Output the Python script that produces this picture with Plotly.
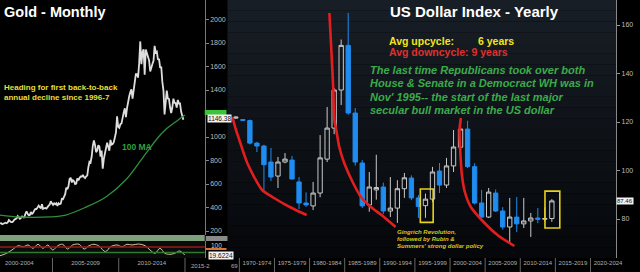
import plotly.graph_objects as go

# ---------------- DATA ----------------
# Gold monthly closes, Jan 2001 .. Nov 2014 (USD/oz)
gold_start_year = 2001
gold_close = [
    265.6, 266.7, 257.7, 263.2, 267.5, 270.6, 265.9, 273.0, 293.1, 278.8, 275.5, 276.5,
    282.3, 296.9, 301.4, 308.2, 326.6, 318.5, 304.7, 312.8, 323.7, 316.9, 317.1, 347.2,
    367.5, 347.5, 334.9, 336.8, 361.4, 346.0, 354.8, 375.6, 388.0, 386.3, 398.4, 416.3,
    402.2, 395.9, 427.5, 388.5, 393.3, 395.8, 391.4, 407.3, 415.7, 425.6, 453.4, 435.6,
    422.2, 435.5, 427.5, 435.7, 414.5, 437.1, 429.0, 433.3, 473.3, 470.8, 495.7, 513.0,
    568.8, 556.0, 582.0, 644.0, 653.0, 613.5, 632.5, 623.5, 599.3, 603.8, 646.7, 632.0,
    650.5, 664.2, 661.8, 677.0, 659.1, 650.5, 665.5, 672.0, 743.0, 789.5, 783.5, 833.8,
    923.3, 971.5, 933.5, 871.0, 885.8, 930.3, 918.0, 833.0, 884.5, 730.8, 814.5, 869.8,
    919.5, 952.0, 916.5, 883.3, 975.5, 934.5, 939.0, 955.5, 995.8, 1040.0, 1175.8, 1087.5,
    1078.5, 1109.5, 1115.5, 1179.3, 1207.5, 1244.0, 1169.0, 1246.0, 1307.0, 1346.8, 1383.5, 1405.5,
    1327.0, 1411.0, 1439.0, 1535.5, 1536.5, 1505.5, 1628.5, 1813.5, 1620.0, 1722.0, 1746.0, 1531.0,
    1744.0, 1711.0, 1662.5, 1651.3, 1558.0, 1598.5, 1622.0, 1648.5, 1776.0, 1719.0, 1726.0, 1657.5,
    1664.8, 1588.5, 1598.3, 1469.0, 1394.5, 1192.0, 1314.5, 1394.8, 1326.5, 1324.0, 1253.0, 1204.5,
    1251.0, 1326.5, 1291.8, 1288.5, 1250.5, 1315.0, 1285.3, 1285.8, 1216.5, 1164.3, 1146.4,
]
# 100-month moving average
ma_years = [2001.04, 2002.53, 2004.78, 2006.0, 2007.54, 2009.03, 2010.52, 2011.72, 2013.0, 2013.5, 2014.48, 2014.99]
ma_values = [336, 319, 320, 336, 404, 490, 634, 810, 1000, 1060, 1145, 1187]

# oscillator under gold chart
osc_years = [2001.04, 2001.54, 2002.04, 2002.41, 2002.79, 2003.16, 2003.53, 2003.91, 2004.28, 2004.65,
             2005.02, 2005.40, 2005.77, 2006.14, 2006.52, 2007.01, 2007.39, 2007.76, 2008.13, 2008.51,
             2009.00, 2009.38, 2009.88, 2010.25, 2010.62, 2011.00, 2011.49, 2011.99, 2012.36, 2012.74,
             2013.11, 2013.48, 2013.86, 2014.23, 2014.60, 2014.98]
osc_values = [6.5, 24, 55, 79.5, 72, 84.6, 60.5, 89.7, 60.5, 84.6,
              48, 79.5, 89.7, 55, 84.6, 89.7, 55, 79.5, 89.7, 77,
              35.7, 72, 84.6, 72, 89.7, 84.6, 92, 79.5, 48, 24,
              60.5, 24, 16.7, 24, 41, 11.6]
osc_upper, osc_lower = 70, 30

gold_xticks = [2002.5, 2007.5, 2012.5]
gold_xlabels = ["2000-2004", "2005-2009", "2010-2014"]
gold_yticks = [200, 400, 600, 800, 1000, 1400, 1600, 1800, 2000]
gold_dividers = [2005, 2010, 2015]

# US Dollar Index yearly candles
dxy_years = list(range(1969, 2015))
dxy_open = [121.6, 121.0, 120.6, 111.3, 110.1, 103.5, 97.7, 103.5, 104.3, 95.3,
            86.6, 85.4, 90.7, 104.7, 117.5, 133.2, 151.6, 123.7, 103.1, 85.8,
            92.0, 93.2, 83.3, 84.5, 92.5, 96.9, 88.7, 85.5, 88.2, 99.8,
            94.0, 101.9, 109.6, 117.1, 101.6, 86.6, 80.8, 90.7, 83.3, 76.7,
            80.8, 78.0, 79.2, 80.4, 79.9, 80.2]
dxy_high = [122.3, 121.2, 121.0, 111.8, 110.6, 109.3, 105.6, 107.2, 106.0, 97.3,
            91.0, 95.3, 114.6, 126.2, 134.0, 154.0, 165.0, 125.8, 104.3, 99.4,
            106.5, 95.0, 97.3, 96.0, 99.0, 98.0, 89.9, 90.5, 101.5, 103.1,
            105.2, 116.7, 121.5, 120.5, 103.0, 92.0, 92.8, 92.2, 84.9, 88.7,
            89.1, 88.7, 82.5, 84.5, 84.8, 88.2]
dxy_low = [121.3, 120.4, 110.8, 107.6, 91.1, 95.7, 92.8, 103.0, 96.3, 84.1,
           85.0, 83.7, 89.0, 103.5, 115.0, 127.0, 123.0, 102.0, 84.5, 83.0,
           88.0, 82.0, 80.8, 78.4, 88.7, 87.8, 80.4, 80.5, 87.0, 90.7,
           92.8, 99.4, 108.0, 101.0, 86.0, 80.4, 80.4, 82.9, 75.6, 70.5,
           74.6, 76.3, 72.6, 78.3, 79.0, 78.8]
dxy_close = [122.0, 120.7, 111.3, 110.1, 102.4, 97.3, 103.5, 104.7, 96.5, 86.6,
             85.8, 90.7, 105.2, 117.5, 133.2, 151.6, 123.7, 103.5, 85.4, 93.2,
             93.0, 83.3, 84.5, 92.5, 97.0, 88.7, 85.2, 88.2, 99.4, 94.0,
             101.9, 109.7, 117.1, 101.6, 86.6, 80.8, 91.1, 83.3, 76.7, 80.8,
             78.0, 79.2, 80.4, 79.9, 80.2, 87.46]
dxy_yticks = [80, 100, 120, 140, 160]
dxy_label_centers = [1972, 1977, 1982, 1987, 1992, 1997, 2002, 2007, 2012, 2017, 2022]
dxy_labels = ["1970-1974", "1975-1979", "1980-1984", "1985-1989", "1990-1994", "1995-1999",
              "2000-2004", "2005-2009", "2010-2014", "2015-2019", "2020-2024"]
dxy_dividers = [1969.5, 1974.5, 1979.5, 1984.5, 1989.5, 1994.5, 1999.5, 2004.5, 2009.5, 2014.5, 2019.5]

# hand-drawn decay curves (year, index value)
curve1_years = [1968.51, 1968.94, 1969.5, 1970.06, 1970.63, 1971.61, 1972.74, 1974.43, 1976.68, 1979.08]
curve1_values = [122.06, 117.53, 112.58, 107.63, 103.09, 97.32, 91.96, 88.66, 84.95, 81.65]
curve2_years = [1982.32, 1982.6, 1982.88, 1983.02, 1983.3, 1983.73, 1984.43, 1985.7, 1986.82, 1988.23, 1989.92, 1991.75]
curve2_values = [164.95, 149.7, 133.2, 120.83, 116.7, 109.69, 103.09, 94.85, 89.07, 84.95, 81.24, 76.7]
curve3_years = [2001.05, 2000.85, 2000.95, 2001.19, 2001.61, 2002.46, 2004.01, 2006.26, 2008.66]
curve3_values = [121.65, 116.7, 108.46, 98.15, 91.13, 84.95, 79.59, 73.4, 68.87]

# highlight boxes (year range, value range)
box_x0 = [1995.27, 2013.02]
box_x1 = [1997.10, 2015.13]
box_y0 = [78.6, 76.3]
box_y1 = [92.4, 91.5]

# ---------------- LAYOUT HELPERS ----------------
W, H = 640, 272
FONT = "Liberation Sans"


def px(x):
    return x / W


def py(y):
    return 1 - y / H


gold_x = [gold_start_year + (i + 0.5) / 12 for i in range(len(gold_close))]

fig = go.Figure()

# gold price
fig.add_trace(go.Scatter(x=gold_x, y=gold_close, mode="lines",
                         line=dict(color="#dedede", width=1.8),
                         xaxis="x", yaxis="y", hoverinfo="skip", showlegend=False))
fig.add_trace(go.Scatter(x=ma_years, y=ma_values, mode="lines",
                         line=dict(color="#2f8f3c", width=1.3, shape="spline"),
                         xaxis="x", yaxis="y", hoverinfo="skip", showlegend=False))
# oscillator
fig.add_trace(go.Scatter(x=osc_years, y=osc_values, mode="lines",
                         line=dict(color="#d8c69c", width=1, shape="spline"),
                         xaxis="x3", yaxis="y3", hoverinfo="skip", showlegend=False))

# dollar candles
fig.add_trace(go.Candlestick(
    x=dxy_years, open=dxy_open, high=dxy_high, low=dxy_low, close=dxy_close,
    xaxis="x2", yaxis="y2", whiskerwidth=0,
    increasing=dict(line=dict(color="#c9c9c9", width=1), fillcolor="rgba(0,0,0,0)"),
    decreasing=dict(line=dict(color="#1f8cf0", width=1), fillcolor="#1f8cf0"),
    hoverinfo="skip", showlegend=False))

for cx, cy in [(curve1_years, curve1_values), (curve2_years, curve2_values), (curve3_years, curve3_values)]:
    fig.add_trace(go.Scatter(x=cx, y=cy, mode="lines",
                             line=dict(color="#e41e1e", width=2.6, shape="spline", smoothing=0.8),
                             xaxis="x2", yaxis="y2", hoverinfo="skip", showlegend=False))

shapes = []
# gradient background for the dollar panel
n = 24
top_c = (24, 30, 38)
bot_c = (5, 7, 10)
for i in range(n):
    t = i / (n - 1)
    c = tuple(int(round(top_c[k] + (bot_c[k] - top_c[k]) * t)) for k in range(3))
    shapes.append(dict(type="rect", xref="x2 domain", yref="y2 domain",
                       x0=0, x1=1, y0=1 - (i + 1) / n, y1=1 - i / n,
                       fillcolor="rgb(%d,%d,%d)" % c, line=dict(width=0), layer="below"))
# highlight boxes
for a, b, c0, c1 in zip(box_x0, box_x1, box_y0, box_y1):
    shapes.append(dict(type="rect", xref="x2", yref="y2", x0=a, x1=b, y0=c0, y1=c1,
                       line=dict(color="#e6d21a", width=1.6), fillcolor="rgba(0,0,0,0)"))
# oscillator band + levels
shapes.append(dict(type="rect", xref="paper", yref="paper", x0=0, x1=px(207),
                   y0=py(241), y1=py(235), fillcolor="#7fa07c", line=dict(width=0)))
shapes.append(dict(type="rect", xref="x3 domain", yref="y3 domain", x0=0, x1=1, y0=0, y1=1,
                   fillcolor="#0b0b0b", line=dict(width=0), layer="below"))
shapes.append(dict(type="line", xref="x3 domain", yref="y3", x0=0, x1=1, y0=osc_upper, y1=osc_upper,
                   line=dict(color="#8e1f1a", width=1.6)))
shapes.append(dict(type="line", xref="x3 domain", yref="y3", x0=0, x1=1, y0=osc_lower, y1=osc_lower,
                   line=dict(color="#2d7a33", width=1.6)))
# dividers in label strips
for d in gold_dividers:
    shapes.append(dict(type="line", xref="x3", yref="paper", x0=d, x1=d, y0=0, y1=py(258),
                       line=dict(color="#666", width=1)))
for d in dxy_dividers:
    shapes.append(dict(type="line", xref="x2", yref="paper", x0=d, x1=d, y0=0, y1=py(258),
                       line=dict(color="#666", width=1)))
# axis price tags
shapes.append(dict(type="rect", xref="paper", yref="paper", x0=px(207), x1=px(229),
                   y0=py(115), y1=py(110), fillcolor="#39c43a", line=dict(width=0)))
shapes.append(dict(type="rect", xref="paper", yref="paper", x0=px(208), x1=px(230),
                   y0=py(241), y1=py(236), fillcolor="#8a8a8a", line=dict(width=0)))
shapes.append(dict(type="rect", xref="paper", yref="paper", x0=px(208), x1=px(229),
                   y0=py(250), y1=py(248), fillcolor="#d9752a", line=dict(width=0)))

annotations = []


def ann(text, x, y, size, color, xanchor="left", bg=None, font=FONT):
    d = dict(text=text, x=px(x), y=py(y), xref="paper", yref="paper", xanchor=xanchor,
             yanchor="middle", showarrow=False, align="left",
             font=dict(family=font, size=size, color=color))
    if bg:
        d.update(bgcolor=bg, borderpad=0)
    annotations.append(d)


ann("<b>Gold - Monthly</b>", 2, 12, 14.5, "#ffffff")
ann("<b>Heading for first back-to-back<br>annual decline since 1996-7</b>", 2, 92, 8, "#e6df3a")
ann("<b>100 MA</b>", 121, 147, 8.5, "#2fa043")
ann("<b>US Dollar Index - Yearly</b>", 392, 12, 15, "#ffffff")
ann("<b>Avg upcycle:</b>", 391, 40.5, 10.5, "#f2e41e")
ann("<b>6 years</b>", 481, 40.5, 10.5, "#f2e41e")
ann("<b>Avg downcycle: 9 years</b>", 391, 51.5, 10.5, "#e0302c")
green_lines = ["The last time Republicans took over both",
               "House & Senate in a Democract WH was in",
               "Nov' 1995-- the start of the last major",
               "secular bull market in the US dollar"]
for i, t in enumerate(green_lines):
    ann("<b><i>%s</i></b>" % t, 372, 70 + i * 13.3, 11, "#3bab4a")
ging = ["Gingrich Revolution,", "followed by Rubin &", "Summers' strong dollar policy"]
for i, t in enumerate(ging):
    ann("<b><i>%s</i></b>" % t, 399, 231.5 + i * 7, 6, "#d9c61e")

ann("1146.38", 209, 118.5, 6.5, "#111111", bg="#f2f2f2")
ann("87.46", 623, 201, 6, "#111111", bg="#f2f2f2")
ann("100", 211, 245, 6.5, "#cccccc")
ann("19.6224", 210, 255, 6.5, "#111111", bg="#f2f2f2")
ann("69", 232, 265.5, 6, "#b0b0b0")
ann("2015-2", 191, 265.5, 6, "#b0b0b0")

axis_font = dict(family=FONT, size=7, color="#bdbdbd")
label_font = dict(family=FONT, size=6, color="#b0b0b0")
fig.update_layout(
    width=W, height=H, margin=dict(l=0, r=0, t=0, b=0),
    paper_bgcolor="#000000", plot_bgcolor="rgba(0,0,0,0)",
    showlegend=False, boxgap=0.12, hovermode=False,
    font=dict(family=FONT),
    shapes=shapes, annotations=annotations,
    xaxis=dict(domain=[0, px(207)], range=[2001.04, 2016.49], anchor="y",
               showticklabels=False, showgrid=False, zeroline=False, ticks=""),
    yaxis=dict(domain=[py(235), 1], range=[166, 2166], anchor="x", side="right",
               tickvals=gold_yticks, tickfont=axis_font, ticks="outside", ticklen=3,
               tickcolor="#888", showline=True, linecolor="#777", linewidth=1,
               showgrid=False, zeroline=False),
    xaxis3=dict(domain=[0, px(207)], range=[2001.04, 2016.49], anchor="y3",
                tickvals=gold_xticks, ticktext=gold_xlabels, tickfont=label_font, tickangle=0,
                ticks="", showgrid=False, zeroline=False),
    yaxis3=dict(domain=[py(258), py(241)], range=[-10.3, 113.8], anchor="x3", side="right",
                showticklabels=False, showgrid=False, zeroline=False, showline=True,
                linecolor="#777", linewidth=1),
    xaxis2=dict(domain=[px(230), px(623)], range=[1967.81, 2023.16], anchor="y2",
                tickvals=dxy_label_centers, ticktext=dxy_labels, tickfont=label_font, tickangle=0,
                ticks="", showgrid=False, zeroline=False, rangeslider=dict(visible=False)),
    yaxis2=dict(domain=[py(258), 1], range=[63.92, 170.32], anchor="x2", side="right",
                tickvals=dxy_yticks, tickfont=axis_font, ticks="outside", ticklen=3,
                tickcolor="#999", showline=True, linecolor="#888", linewidth=1,
                showgrid=False, zeroline=False),
)

fig.write_html("out.html", config={"displayModeBar": False})
